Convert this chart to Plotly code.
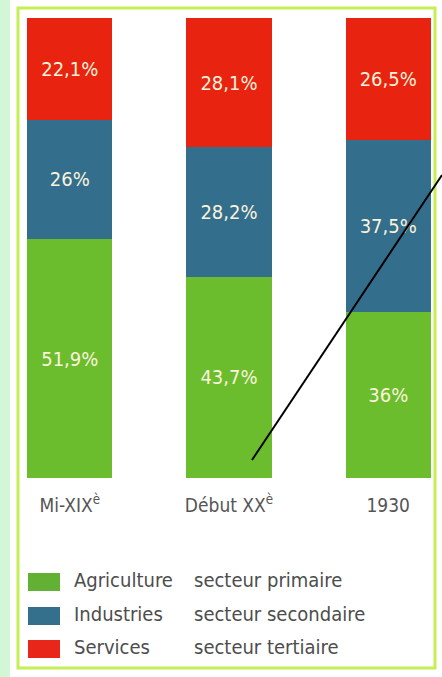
import plotly.graph_objects as go

# ---- data ----
periods = ["Mi-XIXè", "Début XXè", "1930"]
period_labels = ["Mi-XIX<sup>è</sup>", "Début XX<sup>è</sup>", "1930"]
sectors = ["Agriculture", "Industries", "Services"]
sector_names = ["secteur primaire", "secteur secondaire", "secteur tertiaire"]
agriculture = [51.9, 43.7, 36]
industries = [26, 28.2, 37.5]
services = [22.1, 28.1, 26.5]

colors = ["#6cbd2e", "#336e8c", "#e8230f"]
legend_colors = ["#62b134", "#346f8c", "#e8271a"]

W, H = 442, 677
ML, MR, MT, MB = 22, 6, 18, 199
PW, PH = W - ML - MR, H - MT - MB


def px(x):
    return (x - ML) / PW


def py(y):
    return (H - MB - y) / PH


def fmt(v):
    return f"{v:g}".replace(".", ",") + "%"


FONT = "DejaVu Sans Condensed, Liberation Sans Narrow, sans-serif"

fig = go.Figure()
for name, vals, col in zip(sectors, [agriculture, industries, services], colors):
    fig.add_trace(go.Bar(
        x=periods, y=vals, name=name, marker=dict(color=col, line=dict(width=0)),
        text=[fmt(v) for v in vals], textposition="inside", insidetextanchor="middle",
        textfont=dict(color="#fbf3dc", size=20, family=FONT),
        showlegend=False, width=0.535,
    ))

shapes = []
annotations = []
# outer left strip & frame
shapes.append(dict(type="rect", xref="paper", yref="paper", x0=px(0), x1=px(10), y0=py(H), y1=py(0),
                   fillcolor="#d3f6d6", line=dict(width=0), layer="below"))
shapes.append(dict(type="rect", xref="paper", yref="paper", x0=px(18), x1=px(435), y0=py(668), y1=py(8),
                   fillcolor="rgba(0,0,0,0)", line=dict(color="#c6ee55", width=3), layer="below"))

# manual legend
row_y = [582, 616, 649]
for i, (s, n, c) in enumerate(zip(sectors, sector_names, legend_colors)):
    y = row_y[i]
    shapes.append(dict(type="rect", xref="paper", yref="paper", x0=px(28), x1=px(60),
                       y0=py(y + 9), y1=py(y - 9), fillcolor=c, line=dict(width=0)))
    annotations.append(dict(xref="paper", yref="paper", x=px(72), y=py(y - 2), text=s, showarrow=False,
                            xanchor="left", yanchor="middle",
                            font=dict(size=20, color="#4d4d4d", family=FONT)))
    annotations.append(dict(xref="paper", yref="paper", x=px(192), y=py(y - 2), text=n, showarrow=False,
                            xanchor="left", yanchor="middle",
                            font=dict(size=20, color="#4d4d4d", family=FONT)))

# stray black line drawn over the picture
shapes.append(dict(type="line", xref="paper", yref="paper", x0=px(252), y0=py(460), x1=px(442), y1=py(175),
                   line=dict(color="black", width=2)))

fig.update_layout(
    width=W, height=H,
    margin=dict(l=ML, r=MR, t=MT, b=MB, pad=0),
    barmode="stack",
    paper_bgcolor="white", plot_bgcolor="white",
    shapes=shapes, annotations=annotations,
    xaxis=dict(range=[-0.3, 2.3], tickvals=periods, ticktext=period_labels, showgrid=False,
               showline=False, ticks="", ticklabelstandoff=14,
               tickfont=dict(size=19, color="#555555", family=FONT)),
    yaxis=dict(range=[0, 100], visible=False),
)

fig.write_html("out.html", config={"displayModeBar": False},
               post_script="document.body.style.margin='0';document.body.style.overflow='hidden';")
